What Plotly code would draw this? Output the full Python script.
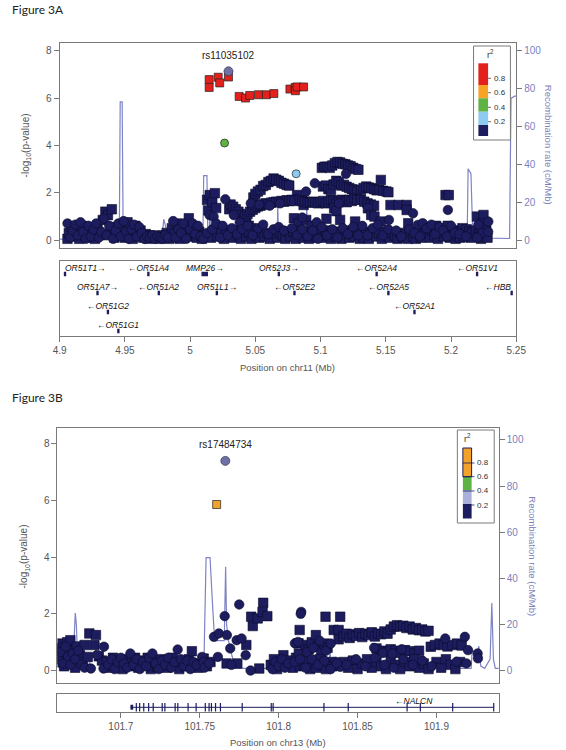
import plotly.graph_objects as go

W, H = 566, 750
def px(x): return x / W
def py(y): return 1 - y / H

NAVY = "#1c1c5e"
NAVY_EDGE = "#0b0b2a"
REC = "#7d83c4"
REC_TXT = "#7a7fbd"
GREY = "#555555"
FRAME = "#7a7a7a"
FONT = "Liberation Sans, Arial, sans-serif"
INDEX_COL = "#6e70a6"

# ======================= Figure 3A (chr11) data =======================
a_x_range = [4.9, 5.25]
a_x_ticks = [4.9, 4.95, 5.0, 5.05, 5.1, 5.15, 5.2, 5.25]
a_x_ticktext = ["4.9", "4.95", "5", "5.05", "5.1", "5.15", "5.2", "5.25"]
logp_ticks = [0, 2, 4, 6, 8]
rec_ticks = [0, 20, 40, 60, 80, 100]

a_index_name = "rs11035102"
a_index_pos = 5.0294
a_index_logp = 7.13

a_ld_pos = [5.0146, 5.0146, 5.0215, 5.0227, 5.0294, 5.0376, 5.0425, 5.0457, 5.0524, 5.0585,
            5.0642, 5.0765, 5.0805, 5.0807, 5.0820, 5.0870, 5.0264, 5.0813]
a_ld_logp = [6.78, 6.45, 6.88, 6.64, 6.89, 6.07, 6.00, 6.11, 6.14, 6.14,
             6.19, 6.38, 6.45, 6.31, 6.47, 6.47, 4.10, 2.80]
a_ld_r2 = [0.9, 0.9, 0.9, 0.9, 0.92, 0.88, 0.88, 0.88, 0.88, 0.88,
           0.88, 0.86, 0.86, 0.86, 0.86, 0.86, 0.5, 0.3]
a_ld_symbol = ["square"] * 16 + ["circle", "circle"]

a_low_squares = [
    (4.906,0.05),(4.907,0.3),(4.909,0.55),(4.911,0.15),(4.913,0.4),(4.915,0.05),(4.917,0.6),(4.919,0.25),
    (4.921,0.1),(4.923,0.45),(4.925,0.3),(4.927,0.05),(4.929,0.5),(4.931,0.2),(4.933,0.85),(4.935,1.2),
    (4.937,1.05),(4.939,0.35),(4.940,1.3),(4.942,0.1),(4.944,0.55),(4.946,0.25),
    (4.948,0.55),(4.950,0.1),(4.952,0.75),(4.954,0.3),(4.956,0.05),(4.958,0.6),(4.960,0.2),(4.962,0.4),
    (4.964,0.1),(4.966,0.25),(4.968,0.05),(4.970,0.2),(4.972,0.1),(4.974,0.15),(4.976,0.05),(4.978,0.2),
    (4.980,0.1),(4.982,0.3),(4.984,0.05),
    (4.986,0.5),(4.988,0.25),(4.990,0.7),(4.992,0.05),(4.994,0.4),(4.996,0.6),(4.998,0.15),(4.999,0.92),
    (5.001,0.3),(5.003,0.55),(5.005,0.1),(5.007,0.35),(5.009,0.05),(5.011,0.2),
    (5.013,1.7),(5.014,1.25),(5.015,1.9),(5.016,0.1),(5.017,1.6),(5.019,1.98),(5.020,1.35),(5.021,0.15),
    (5.022,0.55),(5.024,0.3),(5.026,0.05),(5.028,0.4),(5.030,1.3),
    (5.031,1.5),(5.033,1.41),(5.035,1.3),(5.037,1.2),(5.039,1.06),(5.041,0.9),(5.043,0.78),(5.045,0.6),(5.047,0.5),
    (5.0485,1.8),(5.050,1.95),(5.052,2.05),(5.054,2.12),(5.056,2.28),(5.058,2.33),(5.060,2.45),(5.062,2.5),
    (5.064,2.6),(5.066,2.55),(5.068,2.5),(5.070,2.42),(5.072,2.38),(5.074,2.33),(5.076,2.3),
    (5.042,1.0),(5.044,1.1),(5.046,1.2),(5.048,1.28),(5.050,1.35),(5.052,1.42),(5.054,1.45),(5.056,1.5),
    (5.058,1.55),(5.060,1.52),(5.062,1.58),(5.064,1.6),(5.066,1.62),(5.068,1.6),(5.070,1.65),(5.072,1.62),
    (5.074,1.68),(5.076,1.65),
    (5.031,0.3),(5.033,0.1),(5.035,0.4),(5.037,0.2),(5.039,0.05),(5.041,0.35),(5.043,0.15),(5.045,0.3),
    (5.047,0.05),(5.049,0.4),(5.051,0.2),(5.053,0.1),(5.055,0.35),(5.057,0.15),(5.059,0.3),(5.061,0.05),
    (5.063,0.25),(5.065,0.4),(5.067,0.1),(5.069,0.3),(5.071,0.2),(5.073,0.05),(5.075,0.35),
    (5.082,1.9),(5.087,1.48),(5.078,1.7),(5.080,1.65),(5.084,1.7),(5.086,1.65),(5.088,1.62),(5.090,1.6),
    (5.092,1.58),(5.094,1.62),(5.096,1.6),(5.098,1.55),(5.0796,0.92),(5.083,0.7),(5.089,0.85),(5.093,0.6),
    (5.077,0.15),(5.079,0.35),(5.081,0.05),(5.083,0.25),(5.085,0.4),(5.087,0.1),(5.089,0.3),(5.091,0.05),
    (5.093,0.2),(5.095,0.35),(5.097,0.1),(5.099,0.25),
    (5.101,3.05),(5.103,3.1),(5.105,3.1),(5.107,3.05),(5.109,3.15),(5.111,3.25),(5.113,3.3),(5.115,3.28),
    (5.117,3.22),(5.119,3.2),(5.121,3.15),(5.123,3.12),(5.125,3.05),(5.127,3.0),(5.129,2.97),
    (5.1018,2.26),(5.104,2.3),(5.106,2.15),(5.108,2.12),(5.110,2.35),(5.112,2.5),(5.114,2.45),(5.116,2.3),
    (5.118,2.33),(5.120,2.25),(5.122,2.2),(5.124,2.15),(5.126,2.12),(5.128,2.05),
    (5.100,1.6),(5.102,1.65),(5.104,1.55),(5.106,1.6),(5.108,1.7),(5.110,1.65),(5.112,1.55),(5.114,1.6),
    (5.116,1.7),(5.118,1.65),(5.120,1.6),(5.122,1.7),(5.124,1.65),(5.126,1.75),(5.128,1.7),(5.1104,1.34),
    (5.1122,1.22),(5.1265,0.78),(5.1045,0.9),(5.115,0.85),
    (5.100,0.3),(5.102,0.1),(5.104,0.4),(5.106,0.2),(5.108,0.05),(5.110,0.3),(5.112,0.15),(5.114,0.35),
    (5.116,0.05),(5.118,0.25),(5.120,0.4),(5.122,0.1),(5.124,0.3),(5.126,0.15),(5.128,0.35),(5.130,0.05),
    (5.131,2.12),(5.133,2.2),(5.135,2.26),(5.137,2.22),(5.139,2.19),(5.141,2.15),(5.143,2.1),(5.145,2.12),
    (5.1462,2.54),(5.148,2.08),(5.1505,2.05),(5.152,2.02),
    (5.131,1.7),(5.1335,1.62),(5.136,1.55),(5.1385,1.5),(5.141,1.45),
    (5.1363,1.34),(5.1388,1.06),(5.1413,0.99),(5.1462,0.78),
    (5.131,0.3),(5.133,0.1),(5.135,0.35),(5.137,0.05),(5.139,0.25),(5.141,0.4),(5.143,0.15),(5.145,0.3),
    (5.147,0.05),(5.149,0.35),(5.151,0.2),(5.153,0.1),(5.155,0.3),
    (5.1536,1.48),(5.1598,1.48),(5.166,1.48),(5.166,1.27),(5.1672,0.71),
    (5.157,0.2),(5.159,0.05),(5.161,0.3),(5.163,0.1),(5.165,0.25),(5.167,0.05),(5.169,0.35),(5.171,0.15),
    (5.173,0.05),(5.175,0.3),(5.177,0.1),(5.179,0.25),
    (5.1958,1.9),(5.1983,1.9),(5.181,0.3),(5.1825,0.55),(5.184,0.1),(5.1855,0.4),(5.187,0.2),(5.1885,0.6),
    (5.190,0.05),(5.1915,0.35),(5.193,0.5),(5.1945,0.15),(5.196,0.3),(5.1975,0.6),(5.199,0.1),(5.2005,0.4),
    (5.202,0.2),(5.2035,0.05),
    (5.205,0.2),(5.206,0.4),(5.207,0.1),(5.208,0.35),(5.209,0.5),(5.210,0.15),(5.211,0.3),(5.212,0.45),
    (5.213,0.2),(5.214,0.35),(5.215,0.1),(5.216,0.3),
    (5.2199,0.99),(5.2249,1.06),(5.219,0.4),(5.221,0.2),(5.222,0.5),(5.223,0.05),(5.2235,0.3),(5.225,0.7),
    (5.226,0.15),(5.227,0.4),(5.228,0.1),
]
a_low_circles = [
    (4.906,0.7),(4.908,0.1),(4.910,0.4),(4.912,0.65),(4.914,0.2),(4.916,0.75),(4.918,0.35),(4.920,0.05),
    (4.922,0.6),(4.924,0.15),(4.926,0.45),(4.928,0.7),(4.930,0.1),(4.932,0.35),(4.934,0.9),(4.936,0.2),
    (4.938,0.6),(4.941,0.05),(4.943,0.4),(4.945,0.7),
    (4.947,0.15),(4.949,0.8),(4.951,0.35),(4.953,0.05),(4.955,0.45),(4.957,0.65),(4.959,0.15),(4.961,0.55),
    (4.963,0.3),(4.965,0.05),(4.967,0.15),(4.969,0.1),(4.971,0.2),(4.973,0.05),(4.975,0.15),(4.977,0.1),
    (4.979,0.05),(4.981,0.2),(4.983,0.1),
    (4.987,0.8),(4.989,0.1),(4.991,0.45),(4.993,0.3),(4.995,0.7),(4.997,0.05),(5.000,0.45),(5.002,0.7),
    (5.004,0.25),(5.006,0.6),(5.008,0.15),(5.010,0.05),
    (5.013,0.3),(5.015,1.05),(5.017,0.45),(5.018,0.99),(5.020,0.7),(5.023,0.1),(5.025,0.6),(5.027,1.72),(5.029,0.2),
    (5.0335,1.05),(5.038,0.75),(5.044,0.35),(5.0465,1.55),(5.053,1.5),(5.061,1.45),(5.069,1.55),(5.032,0.5),
    (5.036,0.25),(5.040,0.45),(5.044,0.6),(5.048,0.2),(5.052,0.5),(5.056,0.65),(5.060,0.25),(5.064,0.45),
    (5.068,0.55),(5.072,0.4),
    (5.0956,2.40),(5.0889,2.05),(5.086,0.95),(5.097,0.75),(5.078,0.5),(5.082,0.2),(5.086,0.45),(5.090,0.15),
    (5.094,0.4),(5.098,0.05),
    (5.1195,2.8),(5.1141,1.55),(5.101,0.55),(5.105,0.2),(5.109,0.45),(5.113,0.1),(5.117,0.5),(5.121,0.25),
    (5.125,0.55),(5.129,0.2),
    (5.1524,0.85),(5.132,0.6),(5.136,0.2),(5.140,0.5),(5.144,0.65),(5.148,0.2),(5.152,0.45),
    (5.1709,1.13),(5.1746,0.64),(5.1783,0.71),(5.158,0.4),(5.162,0.15),(5.168,0.45),(5.172,0.3),(5.176,0.15),
    (5.1976,1.27),(5.1815,0.5),(5.185,0.65),(5.188,0.25),(5.191,0.55),(5.194,0.4),(5.197,0.15),(5.200,0.6),
    (5.203,0.3),(5.2065,0.25),(5.2115,0.15),
    (5.2286,0.78),(5.221,0.65),(5.224,0.3),(5.2285,0.35),(5.220,0.1),
]

a_rec_pos = [4.900, 4.9457, 4.9464, 4.9479, 4.9487, 4.9783, 4.9798, 4.9820, 4.9842, 5.0098,
             5.0104, 5.0129, 5.0135, 5.0146, 5.0153, 5.0161, 5.0227, 5.0279, 5.0324, 5.0668,
             5.0672, 5.0677, 5.0890, 5.0894, 5.0899, 5.1413, 5.1857, 5.2042, 5.2050, 5.2057,
             5.2124, 5.2131, 5.2153, 5.2166, 5.2227, 5.2301, 5.2449, 5.2460, 5.2487, 5.2500]
a_rec_rate = [0.5, 0.5, 73, 73, 0.8, 0.8, 11, 5, 1, 1,
              34, 34, 3, 3, 24, 5, 4, 2.1, 1, 1,
              19, 1, 1, 20.7, 1.5, 1.5, 1.5, 1.5, 9, 1.5,
              1.5, 37.6, 35, 4, 2, 1, 0.8, 74.8, 76, 76]

# genes: name, start, end, strand, row
a_genes = [
    ("OR51T1", 4.9032, 4.9050, "+", 1), ("OR51A4", 4.9671, 4.9689, "-", 1),
    ("MMP26", 5.0087, 5.0137, "+", 1), ("OR52J3", 5.0671, 5.0689, "+", 1),
    ("OR52A4", 5.1421, 5.1439, "-", 1), ("OR51V1", 5.2191, 5.2209, "-", 1),
    ("OR51A7", 4.9281, 4.9299, "+", 2), ("OR51A2", 4.9751, 4.9769, "-", 2),
    ("OR51L1", 5.0196, 5.0214, "+", 2), ("OR52E2", 5.0791, 5.0809, "-", 2),
    ("OR52A5", 5.1511, 5.1529, "-", 2), ("HBB", 5.2456, 5.2474, "-", 2),
    ("OR51G2", 4.9361, 4.9379, "-", 3), ("OR52A1", 5.1711, 5.1729, "-", 3),
    ("OR51G1", 4.9441, 4.9459, "-", 4),
]

# ======================= Figure 3B (chr13) data =======================
b_x_range = [101.6598, 101.9395]
b_x_ticks = [101.7, 101.75, 101.8, 101.85, 101.9]
b_x_ticktext = ["101.7", "101.75", "101.8", "101.85", "101.9"]

b_index_name = "rs17484734"
b_index_pos = 101.7662
b_index_logp = 7.40

b_ld_pos = [101.7607]
b_ld_logp = [5.86]
b_ld_r2 = [0.7]
b_ld_symbol = ["square"]

b_low_squares = [
    (101.6605,0.75),(101.661,0.3),(101.6615,0.95),(101.662,0.5),(101.663,0.8),(101.664,0.15),(101.665,0.6),
    (101.666,1.0),(101.667,0.35),(101.668,1.07),(101.669,0.7),(101.670,0.45),(101.671,0.1),(101.672,0.85),
    (101.674,0.55),(101.676,0.3),(101.677,0.9),(101.679,0.48),(101.680,1.31),(101.6832,0.9),(101.6842,1.25),
    (101.686,0.5),(101.688,0.35),
    (101.691,0.3),(101.693,0.1),(101.695,0.45),(101.697,0.2),(101.699,0.35),(101.701,0.05),(101.703,0.4),
    (101.705,0.15),(101.707,0.3),(101.709,0.45),(101.711,0.1),(101.713,0.35),(101.715,0.2),(101.717,0.45),
    (101.719,0.05),(101.721,0.3),(101.723,0.15),(101.725,0.4),(101.727,0.25),(101.729,0.1),(101.731,0.35),
    (101.733,0.45),(101.735,0.2),(101.737,0.05),(101.739,0.3),(101.741,0.15),(101.743,0.4),(101.745,0.68),
    (101.747,0.25),(101.749,0.1),
    (101.7525,0.42),(101.7545,0.15),(101.7568,0.3),(101.767,0.25),(101.7738,0.25),(101.7795,0.9),
    (101.7826,1.9),(101.7836,1.57),(101.7867,1.84),(101.7877,0.07),(101.7902,2.39),(101.7898,2.07),(101.7928,1.92),
    (101.795,0.2),(101.797,0.4),(101.799,0.05),(101.801,0.3),(101.803,0.54),(101.805,0.15),(101.807,0.35),
    (101.809,0.1),(101.811,0.45),(101.8133,1.43),(101.8126,0.96),(101.813,0.6),(101.8138,0.15),
    (101.817,0.9),(101.819,0.75),(101.821,1.0),(101.8236,1.25),(101.825,0.85),(101.827,0.7),(101.829,0.95),
    (101.831,0.8),(101.8297,1.9),(101.839,1.9),(101.8349,1.43),(101.838,1.43),(101.838,1.1),(101.816,0.2),
    (101.818,0.35),(101.820,0.05),(101.822,0.3),(101.824,0.1),(101.826,0.4),(101.828,0.2),(101.830,0.05),
    (101.832,0.3),(101.834,0.15),
    (101.841,1.2),(101.843,1.3),(101.845,1.15),(101.847,1.28),(101.849,1.22),(101.851,1.32),(101.853,1.18),
    (101.855,1.3),(101.857,1.25),(101.859,1.35),(101.861,1.2),(101.863,1.3),(101.865,1.28),(101.867,1.38),
    (101.869,1.3),(101.871,1.45),(101.873,1.55),(101.875,1.6),(101.877,1.55),(101.879,1.58),(101.881,1.5),
    (101.883,1.55),(101.885,1.45),(101.887,1.5),(101.889,1.42),(101.891,1.45),(101.893,1.38),(101.895,1.4),
    (101.862,0.78),(101.865,0.7),(101.868,0.65),(101.871,0.75),(101.874,0.7),(101.877,0.62),(101.880,0.72),
    (101.883,0.68),(101.886,0.6),(101.889,0.7),
    (101.841,0.3),(101.844,0.1),(101.847,0.35),(101.850,0.05),(101.853,0.25),(101.856,0.4),(101.859,0.1),
    (101.862,0.3),(101.865,0.15),(101.868,0.05),(101.871,0.35),(101.874,0.2),(101.877,0.05),(101.880,0.3),
    (101.883,0.15),(101.886,0.4),(101.889,0.1),(101.892,0.25),(101.895,0.05),
    (101.8964,0.84),(101.899,0.9),(101.902,0.95),(101.9046,0.9),(101.907,0.85),(101.910,0.9),(101.913,0.95),
    (101.916,0.88),(101.900,0.3),(101.903,0.1),(101.906,0.4),(101.909,0.2),(101.912,0.05),(101.915,0.3),
]
b_low_circles = [
    (101.6605,0.4),(101.662,0.65),(101.6635,0.25),(101.665,0.85),(101.6665,0.5),(101.668,0.2),(101.6695,0.6),
    (101.671,0.4),(101.673,0.7),(101.675,0.2),(101.677,0.1),(101.681,0.07),(101.685,0.55),(101.6893,0.84),
    (101.689,0.07),
    (101.692,0.2),(101.694,0.4),(101.696,0.05),(101.698,0.3),(101.700,0.45),(101.702,0.25),(101.704,0.1),
    (101.706,0.6),(101.708,0.2),(101.710,0.4),(101.712,0.05),(101.714,0.3),(101.716,0.15),(101.718,0.45),
    (101.720,0.6),(101.722,0.25),(101.724,0.05),(101.726,0.35),(101.728,0.2),(101.730,0.45),(101.732,0.1),
    (101.734,0.3),(101.736,0.74),(101.738,0.4),(101.740,0.15),(101.742,0.35),(101.744,0.05),(101.746,0.3),
    (101.748,0.2),
    (101.7515,0.48),(101.7524,0.3),(101.753,0.1),(101.756,0.25),(101.759,1.19),(101.7621,1.31),(101.7615,0.48),
    (101.7658,1.92),(101.7672,1.25),(101.7693,0.78),(101.770,0.2),(101.7734,1.07),(101.7765,1.13),(101.775,2.33),
    (101.7791,0.54),(101.7822,0.0),
    (101.796,0.05),(101.798,0.3),(101.800,0.15),(101.802,0.4),(101.804,0.1),(101.806,0.25),(101.8103,0.96),
    (101.810,0.3),(101.8143,2.07),(101.8140,2.0),(101.8123,1.01),(101.8135,0.4),
    (101.818,0.65),(101.822,0.8),(101.826,1.05),(101.830,0.7),(101.833,0.95),(101.8359,0.31),(101.839,0.13),
    (101.817,0.1),(101.821,0.4),(101.825,0.2),(101.829,0.35),(101.833,0.05),(101.837,0.25),
    (101.866,0.62),(101.872,0.6),(101.878,0.75),(101.8605,0.8),(101.843,0.2),(101.849,0.4),(101.855,0.15),
    (101.861,0.45),(101.867,0.2),(101.873,0.1),(101.879,0.4),(101.885,0.2),(101.891,0.35),(101.897,0.15),
    (101.9056,1.13),(101.918,1.19),(101.920,0.72),(101.9127,0.31),(101.919,0.25),(101.9261,0.6),(101.9263,0.43),
]

b_rec_pos = [101.6598, 101.6647, 101.6696, 101.6711, 101.6718, 101.6727, 101.6770, 101.6800, 101.6862, 101.6880,
             101.6893, 101.7526, 101.7529, 101.7540, 101.7565, 101.7570, 101.7580, 101.7594, 101.7655, 101.7664,
             101.7670, 101.7682, 101.7723, 101.8093, 101.8099, 101.8105, 101.8320, 101.8326, 101.8332, 101.9220,
             101.9226, 101.9257, 101.9269, 101.9281, 101.9306, 101.9340, 101.9351, 101.9361, 101.9373, 101.9395]
b_rec_rate = [1.5, 1, 2, 25, 20, 2, 2, 3, 12, 11,
              1, 1, 12, 49, 49, 40, 30, 13, 13, 45,
              20, 13, 1, 1, 9.6, 1, 1, 9, 1, 1,
              8.6, 8, 10.6, 2, 1, 5, 29.3, 5, 1, 1]

b_gene_name = "NALCN"
b_gene_start = 101.7061
b_gene_end = 101.9363
b_gene_strand = "-"
b_gene_label_at = 101.886
b_gene_first_block = [101.7061, 101.7078]
b_gene_exons = [101.7098, 101.7119, 101.7145, 101.7176, 101.7205, 101.7262, 101.7279, 101.7344, 101.7361,
                101.7426, 101.7477, 101.7535, 101.7559, 101.7574, 101.7600, 101.7631, 101.7769, 101.7953,
                101.7965, 101.8287, 101.8441, 101.8814, 101.8898, 101.9103, 101.9363]

# ======================= colours =======================
a_palette = [(0.8, "#e3201b"), (0.6, "#f7a325"), (0.4, "#5db344"), (0.2, "#8ecbf0"), (0.0, NAVY)]
b_palette = [(0.8, "#f2a22a"), (0.6, "#f2a22a"), (0.4, "#5db344"), (0.2, "#a9b1da"), (0.0, NAVY)]

def r2_color(r2, pal):
    for lo, c in pal:
        if r2 >= lo:
            return c
    return pal[-1][1]

fig = go.Figure()

def add_panel(xa, ya_rec, ya_p, rec_pos, rec_rate, low_sq, low_ci, ld_pos, ld_logp, ld_r2, ld_sym,
              pal, idx_pos, idx_logp):
    fig.add_trace(go.Scatter(x=rec_pos, y=rec_rate, mode="lines", xaxis=xa, yaxis=ya_rec,
                             line=dict(color=REC, width=1.2), hoverinfo="skip", showlegend=False))
    for pts, sym in ((low_sq, "square"), (low_ci, "circle")):
        xs = [p[0] for p in pts]; ys = [p[1] for p in pts]
        fig.add_trace(go.Scatter(x=xs, y=ys, mode="markers", xaxis=xa, yaxis=ya_p,
                                 marker=dict(symbol=sym, size=9.5, color=NAVY,
                                             line=dict(color=NAVY_EDGE, width=0.6)),
                                 hoverinfo="skip", showlegend=False))
    fig.add_trace(go.Scatter(x=ld_pos, y=ld_logp, mode="markers", xaxis=xa, yaxis=ya_p,
                             marker=dict(symbol=ld_sym, size=8,
                                         color=[r2_color(r, pal) for r in ld_r2],
                                         line=dict(color="#222222", width=0.7)),
                             hoverinfo="skip", showlegend=False))
    fig.add_trace(go.Scatter(x=[idx_pos], y=[idx_logp], mode="markers", xaxis=xa, yaxis=ya_p,
                             marker=dict(symbol="circle", size=9, color=INDEX_COL,
                                         line=dict(color="#333344", width=0.7)),
                             hoverinfo="skip", showlegend=False))

add_panel("x", "y", "y2", a_rec_pos, a_rec_rate, a_low_squares, a_low_circles,
          a_ld_pos, a_ld_logp, a_ld_r2, a_ld_symbol, a_palette, a_index_pos, a_index_logp)
add_panel("x3", "y4", "y5", b_rec_pos, b_rec_rate, b_low_squares, b_low_circles,
          b_ld_pos, b_ld_logp, b_ld_r2, b_ld_symbol, b_palette, b_index_pos, b_index_logp)

annotations = []
shapes = []

def ann(**kw):
    kw.setdefault("showarrow", False)
    kw.setdefault("xanchor", "center")
    kw.setdefault("yanchor", "middle")
    annotations.append(kw)

# ---- gene track A ----
gx, gy = [], []
for name, s, e, strand, row in a_genes:
    gx += [s, e, None]; gy += [row, row, None]
fig.add_trace(go.Scatter(x=gx, y=gy, mode="lines", xaxis="x2", yaxis="y3",
                         line=dict(color=NAVY, width=4.5), hoverinfo="skip", showlegend=False))
a_px_per_mb = (525 - 54.3) / (a_x_range[1] - a_x_range[0])
for name, s, e, strand, row in a_genes:
    label = ("\u2190" + name) if strand == "-" else (name + "\u2192")
    w = (len(name) * 0.62 * 8.5 + 10) / a_px_per_mb
    c = (s + e) / 2
    lo = a_x_range[0] + 0.0027
    hi = a_x_range[1] - 0.0025
    if c - w / 2 < lo:
        xx, anc = lo, "left"
    elif c + w / 2 > hi:
        xx, anc = hi, "right"
    else:
        xx, anc = c, "center"
    ann(x=xx, y=row - 0.34, xref="x2", yref="y3", text="<i>" + label + "</i>", xanchor=anc,
        font=dict(family=FONT, size=8.5, color="#111111"))

# ---- gene track B ----
fig.add_trace(go.Scatter(x=[b_gene_start, b_gene_end], y=[0, 0], mode="lines", xaxis="x4", yaxis="y6",
                         line=dict(color=NAVY, width=1), hoverinfo="skip", showlegend=False))
fig.add_trace(go.Scatter(x=b_gene_first_block, y=[0, 0], mode="lines", xaxis="x4", yaxis="y6",
                         line=dict(color=NAVY, width=5), hoverinfo="skip", showlegend=False))
fig.add_trace(go.Scatter(x=b_gene_exons, y=[0] * len(b_gene_exons), mode="markers", xaxis="x4", yaxis="y6",
                         marker=dict(symbol="line-ns", size=6, line=dict(color=NAVY, width=1.2)),
                         hoverinfo="skip", showlegend=False))
ann(x=b_gene_label_at, y=0.5, xref="x4", yref="y6",
    text="<i>" + ("\u2190" + b_gene_name if b_gene_strand == "-" else b_gene_name + "\u2192") + "</i>",
    font=dict(family=FONT, size=8.5, color="#111111"))

# ---- SNP labels ----
ann(x=a_index_pos, y=a_index_logp, xref="x", yref="y2", text=a_index_name, yshift=16,
    font=dict(family=FONT, size=10, color="#222222"))
ann(x=b_index_pos, y=b_index_logp, xref="x3", yref="y5", text=b_index_name, yshift=16,
    font=dict(family=FONT, size=10, color="#222222"))

# ---- figure titles & axis titles ----
ann(x=px(3), y=py(10), xref="paper", yref="paper", text="Figure 3A", xanchor="left",
    font=dict(family="Lato, Carlito, sans-serif", size=12, color="#222"))
ann(x=px(3), y=py(397), xref="paper", yref="paper", text="Figure 3B", xanchor="left",
    font=dict(family="Lato, Carlito, sans-serif", size=12, color="#222"))
ann(x=px(20), y=py(145), xref="paper", yref="paper", text="-log<sub>10</sub>(p-value)", textangle=-90,
    font=dict(family=FONT, size=10, color=GREY))
ann(x=px(18), y=py(556), xref="paper", yref="paper", text="-log<sub>10</sub>(p-value)", textangle=-90,
    font=dict(family=FONT, size=10, color=GREY))
ann(x=px(559), y=py(145), xref="paper", yref="paper", text="Recombination rate (cM/Mb)", textangle=90,
    font=dict(family=FONT, size=9.5, color=REC_TXT))
ann(x=px(542), y=py(556), xref="paper", yref="paper", text="Recombination rate (cM/Mb)", textangle=90,
    font=dict(family=FONT, size=9.5, color=REC_TXT))
ann(x=px((54.3 + 525) / 2), y=py(368), xref="paper", yref="paper", text="Position on chr11 (Mb)",
    font=dict(family=FONT, size=9.5, color=GREY))
ann(x=px((52 + 507) / 2), y=py(742), xref="paper", yref="paper", text="Position on chr13 (Mb)",
    font=dict(family=FONT, size=9.5, color=GREY))

# ---- r2 legends ----
def legend(box, bar_x, blocks, ticks, title_xy, tick_into_bar=False, outline_first=False):
    x0, y0, x1, y1 = box
    shapes.append(dict(type="rect", xref="paper", yref="paper", x0=px(x0), x1=px(x1), y0=py(y1), y1=py(y0),
                       line=dict(color=FRAME, width=1), fillcolor="white", layer="above"))
    for (ya, yb, col) in blocks:
        shapes.append(dict(type="rect", xref="paper", yref="paper", x0=px(bar_x[0]), x1=px(bar_x[1]),
                           y0=py(yb), y1=py(ya), line=dict(width=0), fillcolor=col, layer="above"))
    if outline_first:
        ya, yb, col = blocks[0]
        shapes.append(dict(type="rect", xref="paper", yref="paper", x0=px(bar_x[0]), x1=px(bar_x[1]),
                           y0=py(yb), y1=py(ya), line=dict(color=NAVY, width=1), fillcolor="rgba(0,0,0,0)",
                           layer="above"))
    for (yt, lab) in ticks:
        xs = bar_x[0] if tick_into_bar else bar_x[1]
        shapes.append(dict(type="line", xref="paper", yref="paper", x0=px(xs), x1=px(bar_x[1] + 3),
                           y0=py(yt), y1=py(yt), line=dict(color=NAVY if tick_into_bar else "#444", width=0.8),
                           layer="above"))
        ann(x=px(bar_x[1] + 4), y=py(yt), xref="paper", yref="paper", text=lab, xanchor="left",
            font=dict(family=FONT, size=8, color="#333"))
    ann(x=px(title_xy[0]), y=py(title_xy[1]), xref="paper", yref="paper", text="r<sup>2</sup>",
        font=dict(family=FONT, size=9, color="#333"))

legend((481, 46, 519, 140), (486, 496),
       [(63.3, 85, a_palette[0][1]), (85, 98.3, a_palette[1][1]), (98.3, 111.7, a_palette[2][1]),
        (111.7, 125, a_palette[3][1]), (125, 136, NAVY)],
       [(78.3, "0.8"), (92.7, "0.6"), (107.3, "0.4"), (121.7, "0.2")], (498, 54))
legend((464.3, 430, 502.3, 523), (470, 479),
       [(448, 476.7, b_palette[0][1]), (476.7, 490, b_palette[2][1]), (490, 504, b_palette[3][1]),
        (504, 518.5, NAVY)],
       [(463, "0.8"), (476.7, "0.6"), (491, "0.4"), (505, "0.2")], (475, 438),
       tick_into_bar=True, outline_first=True)

# ---- axes ----
tickfont = dict(family=FONT, size=10, color=GREY)
rec_tickfont = dict(family=FONT, size=10, color=REC_TXT)
common_frame = dict(showline=True, mirror=True, linecolor=FRAME, linewidth=1, showgrid=False, zeroline=False)

ax_a = [54.3 / W, 525 / W]
ax_b = [52 / W, 507 / W]

fig.update_layout(
    width=W, height=H, margin=dict(l=0, r=0, t=0, b=0),
    paper_bgcolor="white", plot_bgcolor="white", showlegend=False,
    xaxis=dict(domain=ax_a, range=a_x_range, anchor="y", showticklabels=False, ticks="", **common_frame),
    yaxis=dict(domain=[py(248.3), py(42.7)], range=[-0.35 * 12.5, 8.34 * 12.5], anchor="x", side="right",
               tickvals=rec_ticks, ticks="outside", ticklen=5, tickcolor=FRAME, tickfont=rec_tickfont,
               **common_frame),
    yaxis2=dict(range=[-0.35, 8.34], overlaying="y", anchor="x", side="left", tickvals=logp_ticks,
                ticks="outside", ticklen=5, tickcolor=FRAME, tickfont=tickfont,
                showline=False, showgrid=False, zeroline=False),
    xaxis2=dict(domain=ax_a, range=a_x_range, anchor="y3", tickvals=a_x_ticks, ticktext=a_x_ticktext,
                ticks="outside", ticklen=5, tickcolor=FRAME, tickfont=tickfont, **common_frame),
    yaxis3=dict(domain=[py(336), py(261)], range=[4.263, 0.316], anchor="x2", showticklabels=False,
                ticks="", **common_frame),
    xaxis3=dict(domain=ax_b, range=b_x_range, anchor="y4", showticklabels=False, ticks="", **common_frame),
    yaxis4=dict(domain=[py(682.7), py(428.3)], range=[-5.2, 105.0], anchor="x3", side="right",
                tickvals=rec_ticks, ticks="outside", ticklen=5, tickcolor=FRAME, tickfont=rec_tickfont,
                **common_frame),
    yaxis5=dict(range=[-0.43, 8.55], overlaying="y4", anchor="x3", side="left", tickvals=logp_ticks,
                ticks="outside", ticklen=5, tickcolor=FRAME, tickfont=tickfont,
                showline=False, showgrid=False, zeroline=False),
    xaxis4=dict(domain=ax_b, range=b_x_range, anchor="y6", tickvals=b_x_ticks, ticktext=b_x_ticktext,
                ticks="outside", ticklen=5, tickcolor=FRAME, tickfont=tickfont, **common_frame),
    yaxis6=dict(domain=[py(712), py(694)], range=[-0.353, 1.0], anchor="x4", showticklabels=False,
                ticks="", **common_frame),
    annotations=annotations, shapes=shapes,
)

fig.write_html("out.html", config={"displayModeBar": False},
               post_script="document.body.style.margin='0';document.body.style.padding='0';"
                           "document.documentElement.style.overflow='hidden';")
